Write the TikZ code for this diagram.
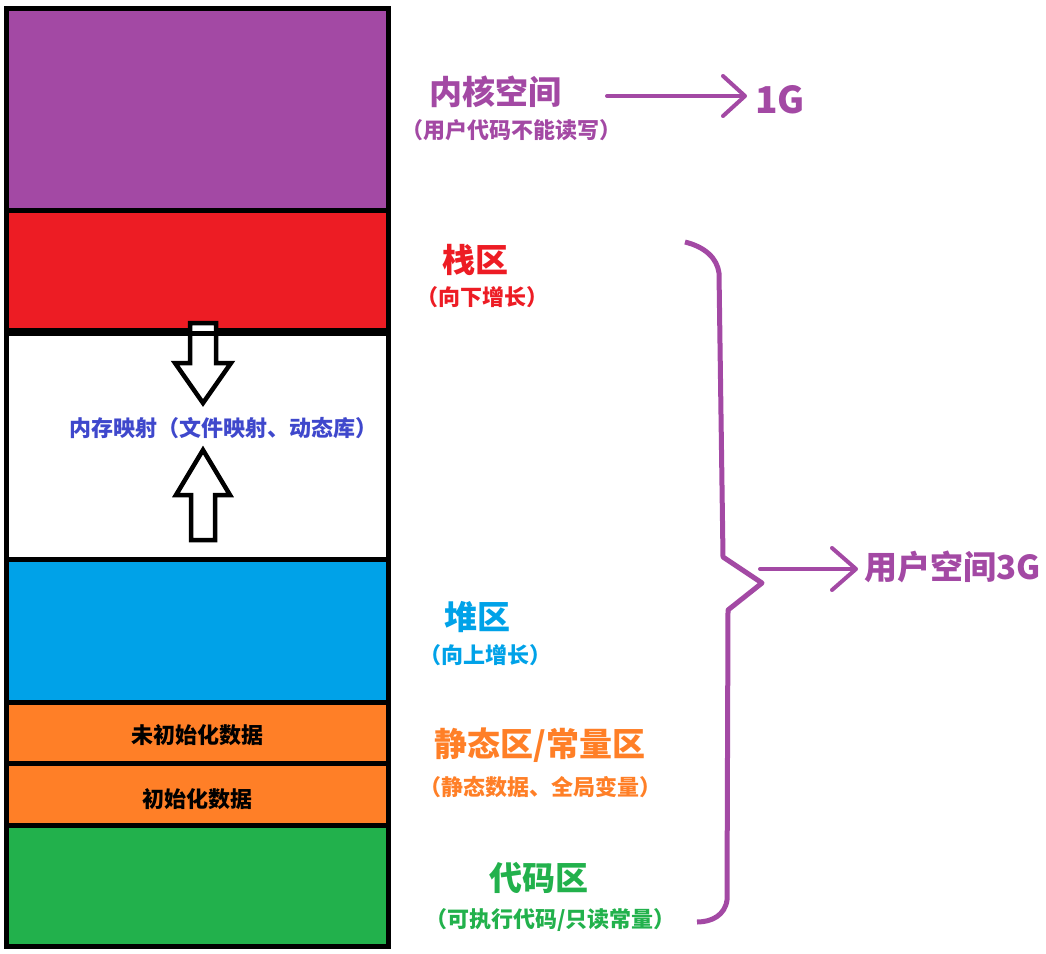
\documentclass[tikz,border=0pt]{standalone}
\usepackage{fontspec}
\setmainfont{Noto Sans CJK SC}
\usetikzlibrary{arrows.meta}
\definecolor{kpurple}{RGB}{163,73,164}
\definecolor{kred}{RGB}{237,28,36}
\definecolor{kblue}{RGB}{0,162,232}
\definecolor{korange}{RGB}{255,127,39}
\definecolor{kgreen}{RGB}{34,177,76}
\definecolor{kindigo}{RGB}{63,72,204}
\tikzset{
  seg/.style={draw=black, line width=5pt, rectangle, inner sep=0pt, minimum width=382pt},
  bigfont/.style={font=\fontsize{33}{36}\selectfont\bfseries, inner sep=0pt},
  smallfont/.style={font=\fontsize{22}{24}\selectfont\bfseries, inner sep=0pt},
  hollowarrow/.style={draw=black, fill=white, line width=4.5pt, line join=miter},
  parrow/.style={draw=kpurple, line width=4pt, line cap=round},
  brace/.style={draw=kpurple, line width=5pt, line join=round}
}
\begin{document}
\begin{tikzpicture}[x=1pt,y=-1pt]
\useasboundingbox (0,0) rectangle (1046,953);
% memory segments
\node[seg, fill=kpurple, minimum height=202pt] (kernel) at (197.5,109.5) {};
\node[seg, fill=kred, minimum height=120pt] (stack) at (197.5,270.5) {};
\node[seg, fill=white, minimum height=229pt] (mmap) at (197.5,445) {};
\node[seg, fill=kblue, minimum height=143pt] (heap) at (197.5,631) {};
\node[seg, fill=korange, minimum height=61pt] (bss) at (197.5,733) {};
\node[seg, fill=korange, minimum height=62pt] (data) at (197.5,794.5) {};
\node[seg, fill=kgreen, minimum height=121pt] (text) at (197.5,886) {};
% growth arrows
\draw[hollowarrow] (190,323) -- (216,323) -- (216,363) -- (231,363) -- (203,403) -- (175,363) -- (190,363) -- cycle;
\draw[hollowarrow] (191,540) -- (215,540) -- (215,495) -- (230,495) -- (203,450) -- (176,495) -- (191,495) -- cycle;
\draw[black, line width=5pt] (stack.south west) -- (stack.south east);
% inner labels
\node[smallfont, text=kindigo] (mmaplbl) at (223.5,428) {内存映射（文件映射、动态库）};
\node[smallfont, text=black] (bsslbl) at (197.5,735) {未初始化数据};
\node[smallfont, text=black] (datalbl) at (197.5,799) {初始化数据};
% right labels
\node[bigfont, text=kpurple] (ktitle) at (495,92) {内核空间};
\node[smallfont, text=kpurple] (ksub) at (511.5,130) {（用户代码不能读写）};
\node[font=\fontsize{37}{40}\selectfont\bfseries, inner sep=0pt, text=kpurple, anchor=west] (g1) at (755,100) {1G};
\coordinate (a1s) at (607,96);
\coordinate (a1e) at (747,96);
\draw[parrow, -{Straight Barb[length=22pt, width=40pt, round]}] (a1s) -- (a1e);

\node[bigfont, text=kred] (stitle) at (475,260) {栈区};
\node[smallfont, text=kred] (ssub) at (482.5,297) {（向下增长）};
\node[bigfont, text=kblue] (htitle) at (477.5,617) {堆区};
\node[smallfont, text=kblue] (hsub) at (485,655) {（向上增长）};
\node[bigfont, text=korange] (dtitle) at (540,745) {静态区/常量区};
\node[smallfont, text=korange] (dsub) at (540,787) {（静态数据、全局变量）};
\node[bigfont, text=kgreen] (ctitle) at (538.5,878) {代码区};
\node[smallfont, text=kgreen] (csub) at (550.5,920) {（可执行代码/只读常量）};

% brace
\draw[brace] (685,242) .. controls (705,247) and (717,258) .. (719,273) -- (723,557) -- (762,583) -- (728,610) -- (727,900) .. controls (725,915) and (712,922) .. (697,922);
\node[bigfont, text=kpurple, anchor=west] (user) at (864,567) {用户空间3G};
\coordinate (a2s) at (760,569);
\coordinate (a2e) at (858,569);
\draw[parrow, -{Straight Barb[length=24pt, width=42pt, round]}] (a2s) -- (a2e);
\end{tikzpicture}
\end{document}
